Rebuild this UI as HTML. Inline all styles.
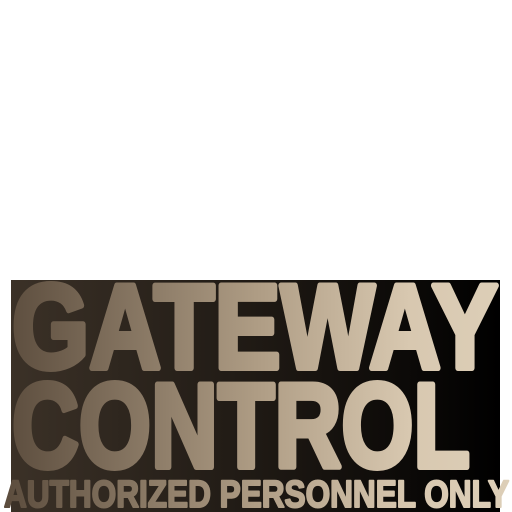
<!DOCTYPE html>
<html><head><meta charset="utf-8"><style>
html,body{margin:0;padding:0;background:#fff;width:512px;height:512px;overflow:hidden}
svg{display:block}
.t{font-family:"Liberation Sans",sans-serif;font-weight:bold;fill:url(#tx);stroke:url(#tx);stroke-linejoin:round}
</style></head><body>
<svg width="512" height="512" viewBox="0 0 512 512">
<defs>
<linearGradient id="bg" x1="0" x2="1" y1="0" y2="0">
<stop offset="0" stop-color="#3b3127"/><stop offset="0.55" stop-color="#1c1712"/><stop offset="1" stop-color="#000"/>
</linearGradient>
<linearGradient id="tx" x1="0" x2="512" y1="0" y2="0" gradientUnits="userSpaceOnUse">
<stop offset="0" stop-color="#5a4b3c"/><stop offset="0.5" stop-color="#ae9c84"/><stop offset="0.8" stop-color="#d8c8b0"/><stop offset="1" stop-color="#ddcfb8"/>
</linearGradient>
</defs>
<rect x="11" y="280" width="489" height="232" fill="url(#bg)"/>
<text class="t" x="12" y="368" font-size="120" stroke-width="6" textLength="486" lengthAdjust="spacingAndGlyphs">GATEWAY</text>
<text class="t" x="12" y="467" font-size="120" stroke-width="6" textLength="458" lengthAdjust="spacingAndGlyphs">CONTROL</text>
<text class="t" x="4" y="507" font-size="38" stroke-width="2" textLength="505" lengthAdjust="spacingAndGlyphs">AUTHORIZED PERSONNEL ONLY</text>
</svg>
</body></html>
